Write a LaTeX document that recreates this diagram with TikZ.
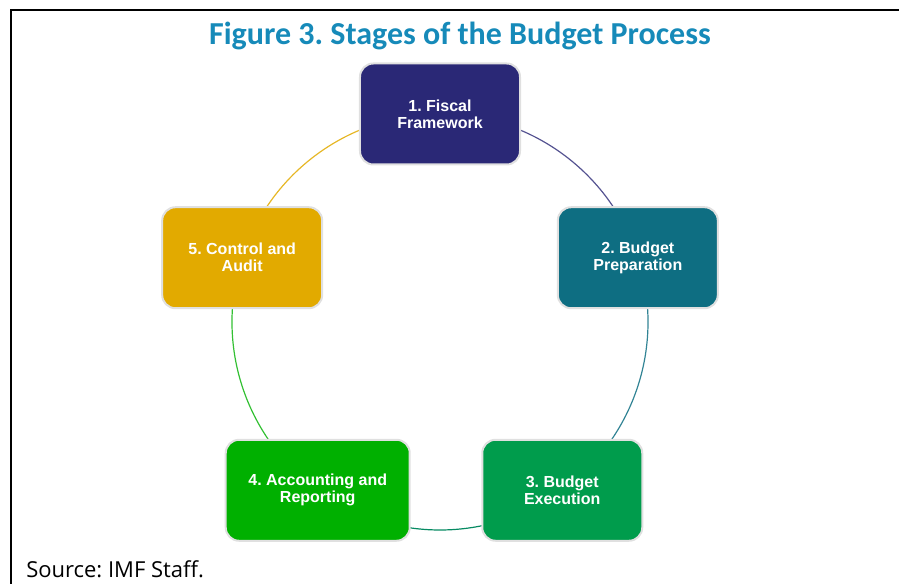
\documentclass[tikz,border=0pt]{standalone}
\usepackage{fontspec}
\setmainfont{Liberation Sans}
\newfontfamily\titlefont{Carlito}
\newfontfamily\srcfont{Open Sans}
\usetikzlibrary{backgrounds}
\frenchspacing

\definecolor{titleblue}{RGB}{22,138,185}
\definecolor{fiscal}{RGB}{42,40,118}
\definecolor{prep}{RGB}{14,110,130}
\definecolor{exec}{RGB}{0,156,76}
\definecolor{acct}{RGB}{0,176,0}
\definecolor{audit}{RGB}{226,170,0}

\tikzset{
  stage/.style={rectangle, rounded corners=10pt, draw=black!12, line width=1.5pt,
    minimum width=120pt, minimum height=75.75pt, align=center, text=white,
    font=\bfseries\fontsize{12}{12.75}\selectfont},
  link/.style={line width=0.9pt}
}

\begin{document}
\begin{tikzpicture}[x=0.75pt, y=0.75pt]
    \useasboundingbox (-440, 322) rectangle (459, -262);
    \draw[line width=1.5pt] (459, 312) -- (-429, 312) -- (-429, -262);
    \node[text=titleblue, font=\titlefont\bfseries\fontsize{24}{28}\selectfont] (title) at (20, 286) {Figure 3. Stages of the Budget Process};
    \node[anchor=base west, font=\srcfont\fontsize{16.5}{19}\selectfont, inner sep=0pt] (source) at (-414, -256) {Source: IMF Staff.};

    \node[stage, fill=fiscal] (f1) at (90:208) {1. Fiscal\\Framework};
    \node[stage, fill=prep] (f2) at (18:208) {2. Budget\\Preparation};
    \node[stage, fill=exec] (f3) at (-54:208) {3. Budget\\Execution};
    \node[stage, fill=acct, minimum width=138pt] (f4) at (-126:208) {4. Accounting and\\Reporting};
    \node[stage, fill=audit] (f5) at (162:208) {5. Control and\\Audit};

    \begin{scope}[on background layer]
      \draw[link, fiscal!80!white] (f1.center) arc[start angle=90, end angle=18, radius=156pt];
      \draw[link, prep!85!white] (f2.center) arc[start angle=18, end angle=-54, radius=156pt];
      \draw[link, exec!60!prep] (f3.center) arc[start angle=-54, end angle=-126, radius=156pt];
      \draw[link, acct!80!white] (f4.center) arc[start angle=-126, end angle=-198, radius=156pt];
      \draw[link, audit!85!white] (f5.center) arc[start angle=162, end angle=90, radius=156pt];
    \end{scope}
\end{tikzpicture}
\end{document}
